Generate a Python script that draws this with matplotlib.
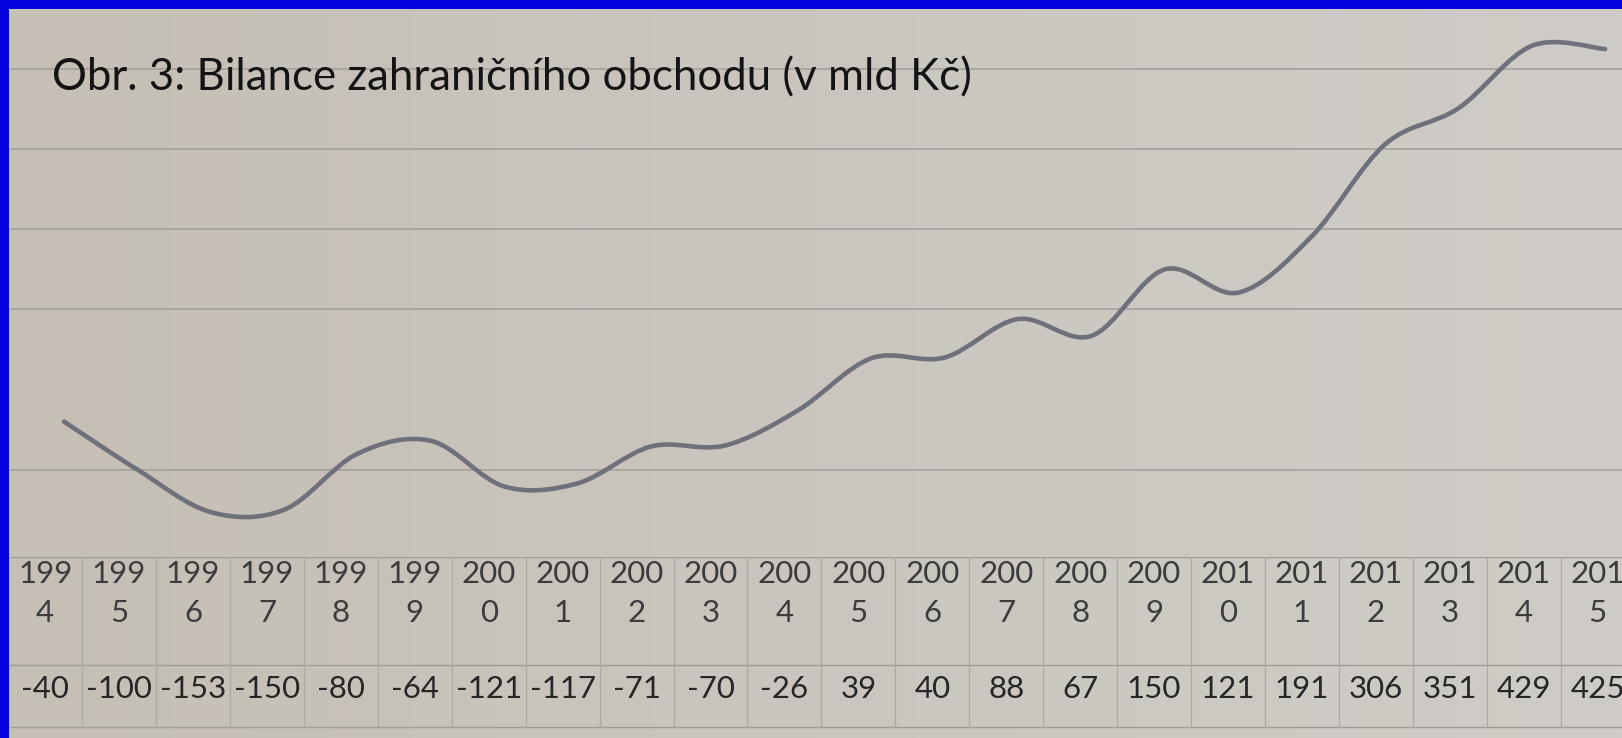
import matplotlib
matplotlib.use("Agg")
import matplotlib.pyplot as plt
import numpy as np
from matplotlib.path import Path
from matplotlib.patches import PathPatch
from matplotlib.colors import LinearSegmentedColormap

# data
years = [1994, 1995, 1996, 1997, 1998, 1999, 2000, 2001, 2002, 2003, 2004,
         2005, 2006, 2007, 2008, 2009, 2010, 2011, 2012, 2013, 2014, 2015]
balance = [-40, -100, -153, -150, -80, -64, -121, -117, -71, -70, -26,
           39, 40, 88, 67, 150, 121, 191, 306, 351, 429, 425]
grid_values = [-100, 100, 200, 300, 400]
title = "Obr. 3: Bilance zahraničního obchodu (v mld Kč)"

FONT = "Lato"
W, H = 1622, 738


def px_box(left, top, right, bottom):
    # pixel box -> figure fraction rect
    return [left / W, 1 - bottom / H, (right - left) / W, (bottom - top) / H]


def smooth_path(xs, ys):
    # Excel-like smoothed line: cubic bezier segments, catmull-rom style control points
    pts = np.column_stack([xs, ys]).astype(float)
    n = len(pts)
    verts = [pts[0]]
    codes = [Path.MOVETO]
    for i in range(n - 1):
        p0 = pts[i - 1] if i > 0 else pts[i]
        p1 = pts[i]
        p2 = pts[i + 1]
        p3 = pts[i + 2] if i + 2 < n else pts[i + 1]
        c1 = p1 + (p2 - p0) / 6.0
        c2 = p2 - (p3 - p1) / 6.0
        verts += [c1, c2, p2]
        codes += [Path.CURVE4] * 3
    return Path(verts, codes)


fig = plt.figure(figsize=(W / 100, H / 100), dpi=100)
fig.patch.set_facecolor("#0303dd")

# paper background
bg = fig.add_axes(px_box(9, 9, W, H))
grad = np.linspace(0, 1, 256).reshape(1, -1)
paper = LinearSegmentedColormap.from_list("paper", ["#c5bfb5", "#cac6bf", "#cfccc7"])
bg.imshow(grad, aspect="auto", cmap=paper, extent=[0, 1, 0, 1])
bg.set_axis_off()

# line chart area
ax = fig.add_axes(px_box(9, 9, W, 557))
ax.set_facecolor("none")
x = np.arange(len(years))
ax.set_xlim(-0.75, 21.23)
ax.set_ylim(-209, 475)
for g in grid_values:
    ax.axhline(g, color="#9b9792", lw=1.2, alpha=0.8, zorder=1)
ax.add_patch(PathPatch(smooth_path(x, balance), fill=False, edgecolor="#6e717b",
                       lw=3.3, capstyle="round", zorder=3))
for s in ax.spines.values():
    s.set_visible(False)
ax.set_xticks([])
ax.set_yticks([])

fig.text(52 / W, 1 - 78 / H, title, fontsize=31.5, family=FONT, color="#141414",
         va="center", ha="left")

# data table under the chart
tb = fig.add_axes(px_box(9, 557, W, H))
tb.set_facecolor("none")
tb.set_xlim(-0.49, 21.33)
tb.set_ylim(181, 0)
for s in tb.spines.values():
    s.set_visible(False)
tb.set_xticks([])
tb.set_yticks([])
for yy in [0, 108, 170]:
    tb.axhline(yy, color="#a09b95", lw=1.0)
for i in range(len(years) + 1):
    tb.plot([i - 0.5, i - 0.5], [0, 170], color="#aca8a2", lw=0.9)
for i, (yr, v) in enumerate(zip(years, balance)):
    s = str(yr)
    tb.text(i, 17, s[:3], ha="center", va="center", fontsize=22.5, family=FONT, color="#3c3c3c")
    tb.text(i, 56, s[3:], ha="center", va="center", fontsize=22.5, family=FONT, color="#3c3c3c")
    tb.text(i, 132, str(v), ha="center", va="center", fontsize=22.5, family=FONT, color="#262626")

fig.savefig("out.png", dpi=100, facecolor=fig.get_facecolor())
